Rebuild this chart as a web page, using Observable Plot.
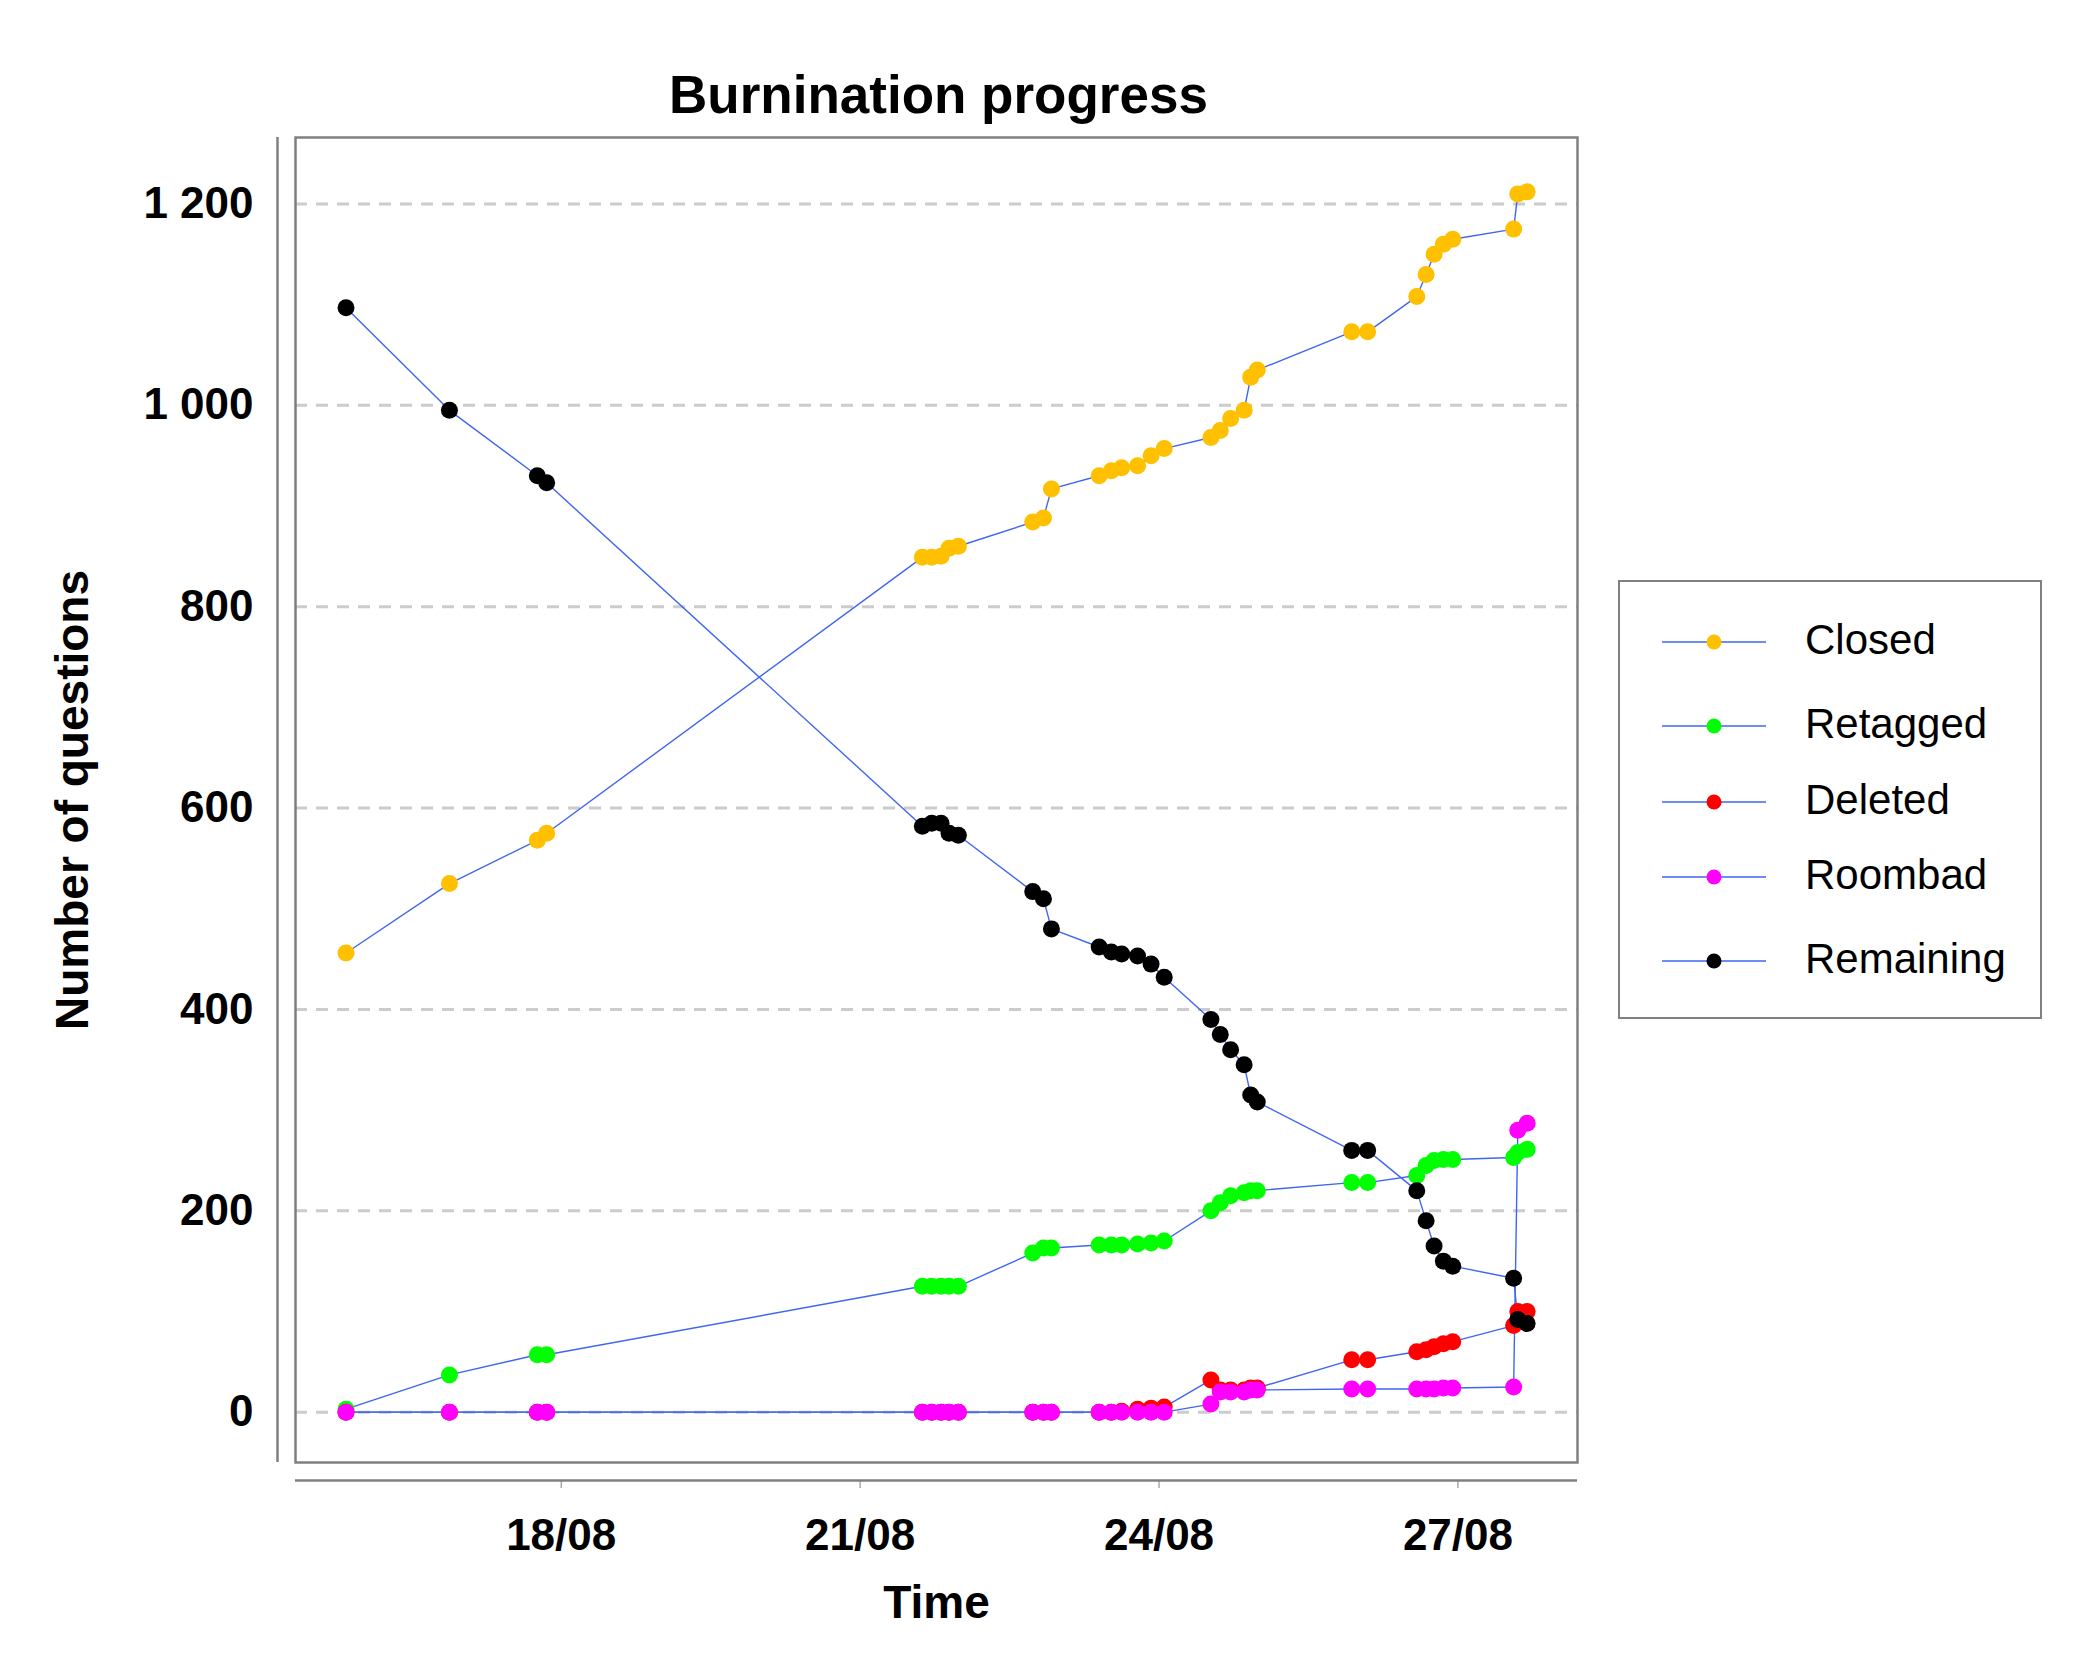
<!DOCTYPE html>
<html><head><meta charset="utf-8">
<script src="https://cdn.jsdelivr.net/npm/d3@7"></script>
<script src="https://cdn.jsdelivr.net/npm/@observablehq/plot@0.6"></script>
<style>
body{margin:0;background:#fff;font-family:Arial,"Liberation Sans",sans-serif;}
#wrap{position:relative;width:2083px;height:1666px;}
#title{position:absolute;left:295px;width:1287px;top:64px;text-align:center;font-weight:bold;font-size:53px;}
#legend{position:absolute;left:1618px;top:580px;width:420px;height:435px;border:2.5px solid #808080;}
.item{position:absolute;left:0;height:0;}
.item svg{position:absolute;left:42px;top:-10px;}
.item span{position:absolute;left:185px;top:-26px;font-size:42px;white-space:nowrap;}
</style></head><body>
<div id="wrap"><div id="chart"></div><div id="title">Burnination progress</div><div id="legend"></div></div>
<script>
const times = ["2015-08-15T20:10","2015-08-16T21:05","2015-08-17T18:15","2015-08-17T20:30",
"2015-08-21T15:00","2015-08-21T17:15","2015-08-21T19:30","2015-08-21T21:25","2015-08-21T23:40",
"2015-08-22T17:35","2015-08-22T20:10","2015-08-22T22:05",
"2015-08-23T09:35","2015-08-23T12:30","2015-08-23T15:00","2015-08-23T18:50","2015-08-23T22:05","2015-08-24T01:15",
"2015-08-24T12:30","2015-08-24T14:45","2015-08-24T17:15","2015-08-24T20:30","2015-08-24T22:05","2015-08-24T23:40",
"2015-08-25T22:25","2015-08-26T02:15",
"2015-08-26T14:05","2015-08-26T16:20","2015-08-26T18:15","2015-08-26T20:30","2015-08-26T22:45",
"2015-08-27T13:25","2015-08-27T14:25","2015-08-27T16:40"];
const closed = [456,525,568,575, 849,849,850,858,860, 884,888,917, 930,935,938,940,950,957, 968,975,987,995,1028,1035, 1073,1073, 1108,1130,1150,1160,1165, 1175,1210,1212];
const retagged = [3,37,57,57, 125,125,125,125,125, 158,163,163, 166,166,166,167,168,170, 200,208,215,218,220,220, 228,228, 235,245,250,251,251, 253,258,261];
const deleted = [0,0,0,0, 0,0,0,0,0, 0,0,0, 0,0,1,3,4,5, 32,22,22,22,24,24, 52,52, 60,62,65,68,70, 86,100,100];
const roombad = [0,0,0,0, 0,0,0,0,0, 0,0,0, 0,0,0,0,0,0, 8,20,20,20,22,22, 23,23, 23,23,23,24,24, 25,280,287];
const remaining = [1097,995,930,923, 582,585,585,575,573, 517,510,480, 462,457,455,453,445,432, 390,375,360,345,315,308, 260,260, 220,190,165,150,145, 133,92,88];
const seriesNames = ["Closed","Retagged","Deleted","Roombad","Remaining"];
const seriesColors = ["#FFC000","#00FF00","#FF0000","#FF00FF","#000000"];
const xTicks = ["2015-08-18","2015-08-21","2015-08-24","2015-08-27"];
const yTicks = [0,200,400,600,800,1000,1200];

const vals = [closed,retagged,deleted,roombad,remaining];
const parse = s => new Date(s + (s.length>10?"Z":"T00:00Z"));
const data = [];
seriesNames.forEach((n,i)=>times.forEach((t,j)=>data.push({series:n,time:parse(t),value:vals[i][j]})));
const x0 = parse("2015-08-15T08:00"), x1 = parse("2015-08-28T04:48");
const y0 = -50, y1 = 1266;
const fmt = d => d3.format(",")(d).replace(/,/g," ");

const chart = Plot.plot({
  width:1620, height:1666,
  marginLeft:295, marginRight:43, marginTop:137, marginBottom:204,
  style:{fontFamily:"Arial, 'Liberation Sans', sans-serif", background:"#fff"},
  x:{type:"utc", domain:[x0,x1]},
  y:{domain:[y0,y1]},
  color:{domain:seriesNames, range:seriesColors},
  marks:[
    Plot.ruleY(yTicks,{stroke:"#cccccc",strokeWidth:3,strokeDasharray:"12,9"}),
    Plot.line(data,{x:"time",y:"value",z:"series",stroke:"#3f66f0",strokeWidth:1.4}),
    Plot.dot(data,{x:"time",y:"value",fill:"series",r:8.5}),
    Plot.frame({stroke:"#808080",strokeWidth:2.5}),
    Plot.ruleX([x0],{y1:y0,y2:y1,dx:-18,stroke:"#808080",strokeWidth:2.5}),
    Plot.ruleY([y0],{x1:x0,x2:x1,dy:18,stroke:"#808080",strokeWidth:2.5}),
    Plot.axisX(xTicks.map(parse),{tickSize:8,tickPadding:30,dy:18,tickFormat:d3.utcFormat("%d/%m"),fontSize:44,fontWeight:"bold",stroke:"#808080",label:null}),
    Plot.axisY(yTicks,{tickSize:0,tickPadding:42,tickFormat:fmt,fontSize:44,fontWeight:"bold",label:null}),
    Plot.text(["Time"],{frameAnchor:"bottom",dy:155,fontSize:46,fontWeight:"bold"}),
    Plot.text(["Number of questions"],{frameAnchor:"left",textAnchor:"middle",dx:-222,rotate:-90,fontSize:46,fontWeight:"bold"})
  ]
});
document.getElementById("chart").appendChild(chart);

const lg = document.getElementById("legend");
const ys = [60,144,220,295,379];
seriesNames.forEach((n,i)=>{
  const d = document.createElement("div"); d.className="item"; d.style.top=ys[i]+"px";
  d.innerHTML = `<svg width="104" height="20"><line x1="0" x2="104" y1="10" y2="10" stroke="#3f66f0" stroke-width="1.4"/><circle cx="52" cy="10" r="7.5" fill="${seriesColors[i]}"/></svg><span>${n}</span>`;
  lg.appendChild(d);
});
</script></body></html>
